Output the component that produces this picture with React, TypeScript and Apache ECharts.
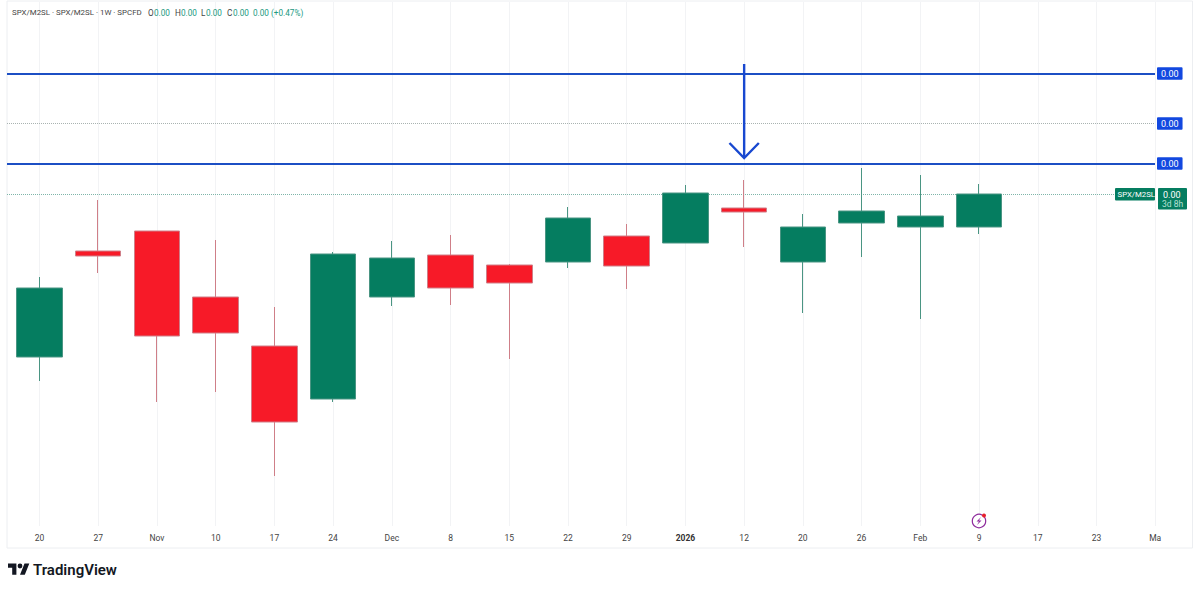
import React, { useEffect, useRef } from "react";
import * as echarts from "echarts";

const categories = ["20","27","Nov","10","17","24","Dec","8","15","22","29","2026","12","20","26","Feb","9","17","23","Ma"];
// Values on an arbitrary scale, since the chart labels every price as 0.00
const opens  = [169,275,295,229,180,127,229,271,261,264,290,283,318,264,303,299,299];
const closes = [238,270,190,193,104,272,268,238,243,308,260,333,314,299,315,310,332];
const lows   = [145,253,124,134,50,124,220,221,167,258,237,283,279,213,269,207,292];
const highs  = [249,326,295,286,219,274,285,291,262,319,302,341,346,312,358,351,342];
const levelSolid = [452.5, 362.5];
const levelDotted = [402.5];
const lastPrice = 331.5;
const arrow = { category: 12, tail: 462, tip: 368, headBand: 0.25, headDy: 15 };

const legendChunks: [string, number, string, number][] = [
  ["SPX/M2SL · SPX/M2SL · 1W · SPCFD", 12, "#444", 7.9],
  ["O", 148, "#444", 8.2], ["0.00", 154, "#22997f", 8.2],
  ["H", 175, "#444", 8.2], ["0.00", 181, "#22997f", 8.2],
  ["L", 201, "#444", 8.2], ["0.00", 206, "#22997f", 8.2],
  ["C", 227, "#444", 8.2], ["0.00", 233, "#22997f", 8.2],
  ["0.00 (+0.47%)", 253, "#22997f", 8.2],
];

const GREEN = "#057d60", RED = "#f71a28", BLUE = "#1c4fc4", TAG = "#1248e0";
const FONT = "Roboto, 'Noto Sans', sans-serif";

echarts.graphic.registerShape(
  "tvLogo",
  echarts.graphic.extendPath("M14 22H7V11H0V4h14v18zM28 22h-8l7.5-18h8L28 22zM24 8a4 4 0 1 1-8 0 4 4 0 1 1 8 0z", {}) as any
);

export default function App() {
  const ref = useRef<HTMLDivElement>(null);
  useEffect(() => {
    const chart = echarts.init(ref.current!, undefined, { renderer: "svg" });
    const candles = opens.map((o, i) => [o, closes[i], lows[i], highs[i]]);
    const yTop = 524;
    const tag = (x: number, y: number, w: number, h: number, fill: string) => ({ type: "rect", shape: { x, y, width: w, height: h, r: 1 }, style: { fill }, z: 20 });
    const txt = (t: string, x: number, y: number, fill: string, size = 8.5, extra: any = {}) => ({
      type: "text", x, y, style: { text: t, fill, fontSize: size, fontFamily: FONT, verticalAlign: "middle", ...extra }, z: 21,
    });
    const levelLabel = { show: true, position: "end", distance: 2, formatter: "0.00", color: "#fff", fontSize: 9, fontFamily: FONT, backgroundColor: TAG, padding: [2, 4, 1.5, 4], borderRadius: 1 };
    chart.setOption({
      animation: false,
      backgroundColor: "#ffffff",
      grid: [
        { left: 10.15, top: 2, width: 1174.4, height: 524 },
        { left: 7, top: 2, width: 1148, height: 524 },
      ],
      xAxis: [
        {
          type: "category", gridIndex: 0, data: categories,
          axisLine: { show: false }, axisTick: { show: false },
          splitLine: { show: true, alignWithLabel: true, interval: 0, lineStyle: { color: "#f2f3f5", width: 1 } },
          axisLabel: {
            interval: 0, margin: 7, fontSize: 8.5, color: "#444", fontFamily: FONT,
            formatter: (v: string) => (v === "2026" ? "{b|2026}" : v),
            rich: { b: { fontWeight: "bold", fontSize: 8.5, color: "#333", fontFamily: FONT } },
          },
        },
        { type: "value", gridIndex: 1, min: 0, max: 1, show: false },
      ],
      yAxis: [
        { type: "value", gridIndex: 0, min: 0, max: yTop, show: false },
        { type: "value", gridIndex: 1, min: 0, max: yTop, show: false },
      ],
      series: [
        {
          type: "candlestick", xAxisIndex: 0, yAxisIndex: 0, data: candles, barWidth: 46,
          itemStyle: { color: GREEN, color0: RED, borderColor: "#4a9583", borderColor0: "#cf7f88", borderWidth: 1 },
          z: 5,
        },
        {
          type: "line", xAxisIndex: 1, yAxisIndex: 1, data: [], symbol: "none", silent: true, z: 3,
          markLine: {
            silent: true, symbol: "none", animation: false,
            data: [
              ...levelSolid.map((v) => ({ yAxis: v, lineStyle: { color: BLUE, width: 2, type: "solid" }, label: levelLabel })),
              ...levelDotted.map((v) => ({ yAxis: v, lineStyle: { color: "#a9b3b1", width: 1, type: "dotted" }, label: levelLabel })),
              { yAxis: lastPrice, lineStyle: { color: "#7fb5a9", width: 1, type: "dotted" }, label: { show: false } },
            ],
          },
        },
        {
          type: "custom", xAxisIndex: 0, yAxisIndex: 0, silent: true, z: 8, clip: false,
          data: [[arrow.category, arrow.tail, arrow.tip]],
          renderItem: (_p: any, api: any) => {
            const c = api.value(0), a = api.coord([c, api.value(1)]), b = api.coord([c, api.value(2)]);
            const hw = api.size([1, 0])[0] * arrow.headBand;
            const hy = api.coord([c, api.value(2) + arrow.headDy])[1];
            const style = { stroke: "#1848d0", lineWidth: 2.4, fill: "none" };
            return {
              type: "group",
              children: [
                { type: "line", shape: { x1: a[0], y1: a[1], x2: b[0], y2: b[1] }, style },
                { type: "polyline", shape: { points: [[b[0] - hw, hy], b, [b[0] + hw, hy]] }, style },
              ],
            };
          },
        },
      ],
      graphic: [
        { type: "rect", shape: { x: 7, y: 1, width: 1185.5, height: 547 }, style: { fill: "none", stroke: "#eceef1", lineWidth: 1 }, z: 1 },
        ...legendChunks.map(([t, x, c, s]) => txt(t, x, 12.5, c, s)),
        tag(1115, 188, 40, 12.5, GREEN),
        txt("SPX/M2SL", 1117.5, 194.5, "#ffffff", 7.8),
        tag(1158, 188, 29, 21.5, GREEN),
        txt("0.00", 1163, 194.5, "#ffffff", 9),
        txt("3d 8h", 1162, 204, "#b5e0d4", 8.5),
        { type: "circle", shape: { cx: 979, cy: 521, r: 6.7 }, style: { fill: "#fff", stroke: "#8e2a9c", lineWidth: 1.2 }, z: 20 },
        { type: "polygon", shape: { points: [[981, 517], [976.5, 521.5], [979, 521.5], [977, 525], [981.5, 520.5], [979, 520.5]] }, style: { fill: "#8e2a9c" }, z: 21 },
        { type: "circle", shape: { cx: 984, cy: 515.5, r: 2 }, style: { fill: "#e8202c" }, z: 22 },
        { type: "tvLogo", x: 8, y: 561, scaleX: 0.6, scaleY: 0.62, style: { fill: "#131722" }, z: 20 },
        txt("TradingView", 33, 569.5, "#131722", 15, { fontWeight: 600 }),
      ],
    });
    return () => chart.dispose();
  }, []);
  return <div ref={ref} style={{ position: "absolute", left: 0, top: 0, width: 1200, height: 590 }} />;
}
